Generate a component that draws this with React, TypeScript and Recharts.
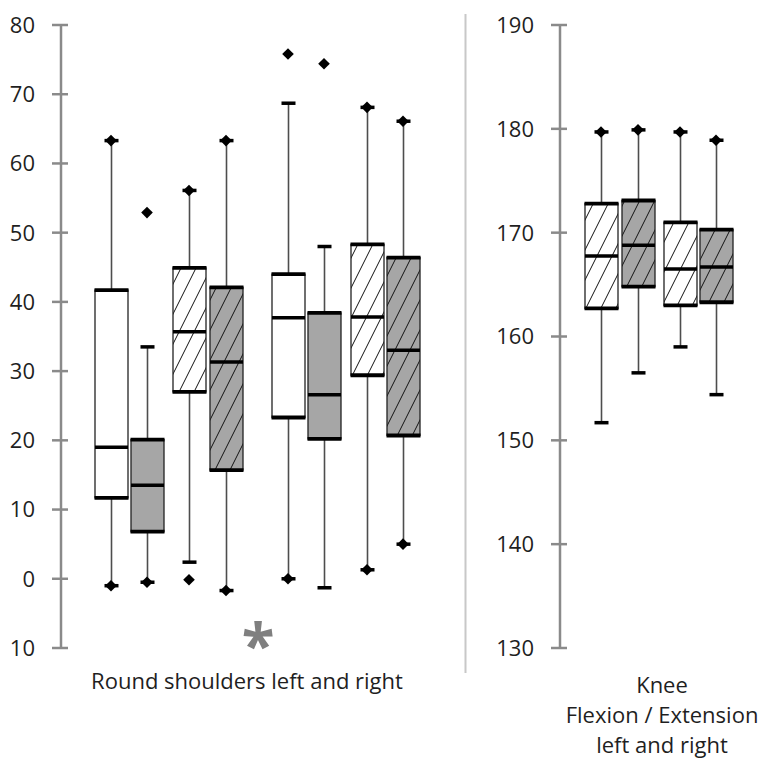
import { ComposedChart, Bar, Scatter, XAxis, YAxis } from 'recharts';

// Round shoulders: 8 boxes (left/right, 4 groups)
const roundPos = [2.5, 4.3, 6.4, 8.25, 11.35, 13.15, 15.3, 17.1];
const roundMin = [-1.0, -0.5, 2.4, -1.7, 0.0, -1.3, 1.3, 5.0];
const roundQ1 = [11.7, 6.8, 27.0, 15.7, 23.3, 20.2, 29.4, 20.7];
const roundMed = [19.0, 13.5, 35.7, 31.3, 37.7, 26.6, 37.8, 33.0];
const roundQ3 = [41.7, 20.1, 44.9, 42.1, 44.0, 38.4, 48.3, 46.4];
const roundMax = [63.3, 33.5, 56.1, 63.3, 68.7, 48.0, 68.1, 66.1];
const roundMaxMark = [true, false, true, true, false, false, true, true];
const roundMinMark = [true, true, false, true, true, false, true, true];
const roundOutliers = [[], [52.9], [-0.15], [], [75.8], [74.4], [], []];
const roundKind = ['white', 'grey', 'hatchWhite', 'hatchGrey', 'white', 'grey', 'hatchWhite', 'hatchGrey'];
const roundTicks = [-10, 0, 10, 20, 30, 40, 50, 60, 70, 80];
const roundTickLabels = ['10', '0', '10', '20', '30', '40', '50', '60', '70', '80'];

// Knee flexion / extension: 4 boxes
const kneePos = [2.05, 3.9, 6.0, 7.8];
const kneeMin = [151.7, 156.5, 159.0, 154.4];
const kneeQ1 = [162.7, 164.8, 163.0, 163.3];
const kneeMed = [167.75, 168.8, 166.5, 166.7];
const kneeQ3 = [172.8, 173.1, 171.0, 170.3];
const kneeMax = [179.7, 179.9, 179.7, 178.9];
const kneeMaxMark = [true, true, true, true];
const kneeMinMark = [false, false, false, false];
const kneeOutliers: number[][] = [[], [], [], []];
const kneeKind = ['hatchWhite', 'hatchGrey', 'hatchWhite', 'hatchGrey'];
const kneeTicks = [130, 140, 150, 160, 170, 180, 190];
const kneeTickLabels = ['130', '140', '150', '160', '170', '180', '190'];

const FONT = '"Open Sans", sans-serif';
const AXIS = '#8a8a8a';
const GREY = '#a6a6a6';

const fills: Record<string, string> = {
  white: '#ffffff',
  grey: GREY,
  hatchWhite: 'url(#hatchWhite)',
  hatchGrey: 'url(#hatchGrey)',
};

const buildBoxes = (pos: number[], mn: number[], q1: number[], med: number[], q3: number[], mx: number[], kind: string[]) =>
  pos.map((x, i) => ({ x, box: [q1[i], q3[i]], min: mn[i], med: med[i], max: mx[i], kind: kind[i] }));

const buildMarks = (pos: number[], mn: number[], mx: number[], minMark: boolean[], maxMark: boolean[], outliers: number[][]) => {
  const pts: { x: number; y: number }[] = [];
  pos.forEach((x, i) => {
    if (maxMark[i]) pts.push({ x, y: mx[i] });
    if (minMark[i]) pts.push({ x, y: mn[i] });
    outliers[i].forEach((y) => pts.push({ x, y }));
  });
  return pts;
};

const roundData = buildBoxes(roundPos, roundMin, roundQ1, roundMed, roundQ3, roundMax, roundKind);
const roundMarks = buildMarks(roundPos, roundMin, roundMax, roundMinMark, roundMaxMark, roundOutliers);
const kneeData = buildBoxes(kneePos, kneeMin, kneeQ1, kneeMed, kneeQ3, kneeMax, kneeKind);
const kneeMarks = buildMarks(kneePos, kneeMin, kneeMax, kneeMinMark, kneeMaxMark, kneeOutliers);

// box + whiskers, pixel positions derived from the bar's own scaled rectangle
const BoxShape = (props: any) => {
  const { x, y, width, height, payload } = props;
  const [q1, q3] = payload.box;
  const k = Math.abs(height) / (q3 - q1);
  const top = Math.min(y, y + height);
  const py = (v: number) => top + (q3 - v) * k;
  const cx = x + width / 2;
  const cap = 7;
  return (
    <g>
      <line x1={cx} x2={cx} y1={py(payload.max)} y2={py(q3)} stroke="#4d4d4d" strokeWidth={1.6} />
      <line x1={cx} x2={cx} y1={py(q1)} y2={py(payload.min)} stroke="#4d4d4d" strokeWidth={1.6} />
      <line x1={cx - cap} x2={cx + cap} y1={py(payload.max)} y2={py(payload.max)} stroke="#000" strokeWidth={3.5} />
      <line x1={cx - cap} x2={cx + cap} y1={py(payload.min)} y2={py(payload.min)} stroke="#000" strokeWidth={3.5} />
      <rect x={x} y={top} width={width} height={Math.abs(height)} fill={fills[payload.kind]} stroke="#222" strokeWidth={1.3} />
      <line x1={x - 0.5} x2={x + width + 0.5} y1={py(q3)} y2={py(q3)} stroke="#000" strokeWidth={3.8} />
      <line x1={x - 0.5} x2={x + width + 0.5} y1={py(q1)} y2={py(q1)} stroke="#000" strokeWidth={3.8} />
      <line x1={x} x2={x + width} y1={py(payload.med)} y2={py(payload.med)} stroke="#000" strokeWidth={3.5} />
    </g>
  );
};

const Diamond = (props: any) => {
  const { cx, cy } = props;
  const r = 5.8;
  return <path d={`M${cx},${cy - r} L${cx + r},${cy} L${cx},${cy + r} L${cx - r},${cy} Z`} fill="#000" />;
};

const makeTick = (ticks: number[], labels: string[]) => (props: any) => {
  const { x, y, payload } = props;
  const idx = ticks.indexOf(payload.value);
  return (
    <g>
      <line x1={x - 9} x2={x + 7} y1={y} y2={y} stroke={AXIS} strokeWidth={2.5} />
      <text x={x - 26} y={y} dy="0.36em" textAnchor="end" fontFamily={FONT} fontSize={22} fill="#1f1f1f">
        {labels[idx]}
      </text>
    </g>
  );
};

const BoxPanel = ({ data, marks, domainX, domainY, ticks, labels, width, yWidth, right }: any) => (
  <ComposedChart width={width} height={700} data={data} margin={{ top: 25, right, bottom: 52, left: 0 }}>
    <XAxis dataKey="x" type="number" domain={domainX} hide />
    <YAxis
      type="number"
      domain={domainY}
      ticks={ticks}
      interval={0}
      width={yWidth}
      tickSize={0}
      tickMargin={0}
      tickLine={false}
      axisLine={{ stroke: AXIS, strokeWidth: 2.5 }}
      tick={makeTick(ticks, labels)}
      allowDataOverflow
    />
    <Bar dataKey="box" barSize={33} shape={BoxShape} isAnimationActive={false} />
    <Scatter data={marks} dataKey="y" shape={Diamond} isAnimationActive={false} />
  </ComposedChart>
);

export default function App() {
  return (
    <div style={{ position: 'absolute', left: 0, top: 0, width: 764, height: 760, background: '#fff' }}>
      <svg width={0} height={0} style={{ position: 'absolute' }}>
        <defs>
          {[
            ['hatchWhite', '#ffffff'],
            ['hatchGrey', GREY],
          ].map(([id, bg]) => (
            <pattern key={id} id={id} patternUnits="userSpaceOnUse" width={15} height={30}>
              <rect width={15} height={30} fill={bg} />
              <path d="M0,30 L15,0 M-4,8 L4,-8 M11,38 L19,22" stroke="#111" strokeWidth={1} />
            </pattern>
          ))}
        </defs>
      </svg>
      <div style={{ position: 'absolute', left: 0, top: 0 }}>
        <BoxPanel
          data={roundData}
          marks={roundMarks}
          domainX={[0, 19]}
          domainY={[-10, 80]}
          ticks={roundTicks}
          labels={roundTickLabels}
          width={460}
          yWidth={61}
          right={19}
        />
      </div>
      <div style={{ position: 'absolute', left: 470, top: 0 }}>
        <BoxPanel
          data={kneeData}
          marks={kneeMarks}
          domainX={[0, 9.5]}
          domainY={[130, 190]}
          ticks={kneeTicks}
          labels={kneeTickLabels}
          width={294}
          yWidth={90}
          right={14}
        />
      </div>
      <svg width={764} height={760} style={{ position: 'absolute', left: 0, top: 0, pointerEvents: 'none' }}>
        <line x1={465.5} x2={465.5} y1={14} y2={673} stroke="#c8c8c8" strokeWidth={2} />
        <text x={258} y={667} textAnchor="middle" fontFamily={FONT} fontSize={60} fontWeight={700} fill="#7f7f7f">
          *
        </text>
        <text x={247} y={689} textAnchor="middle" fontFamily={FONT} fontSize={22} fill="#1f1f1f">
          Round shoulders left and right
        </text>
        <text x={662} textAnchor="middle" fontFamily={FONT} fontSize={22} fill="#1f1f1f">
          <tspan x={662} y={693}>Knee</tspan>
          <tspan x={662} y={723}>Flexion / Extension</tspan>
          <tspan x={662} y={753}>left and right</tspan>
        </text>
      </svg>
    </div>
  );
}
